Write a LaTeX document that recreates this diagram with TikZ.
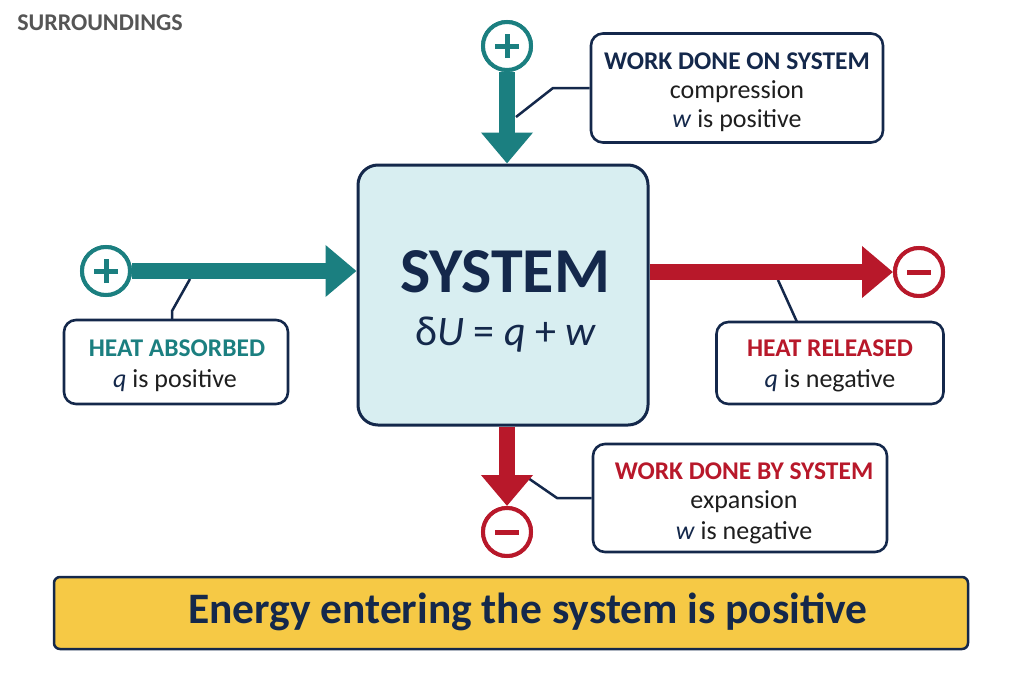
\documentclass[tikz,border=0pt]{standalone}
\usepackage{fontspec}
\setmainfont{Carlito}
\usetikzlibrary{arrows.meta}
\definecolor{navy}{HTML}{14284B}
\definecolor{tealc}{HTML}{1B7F80}
\definecolor{redc}{HTML}{B8182A}
\definecolor{sysfill}{HTML}{D8EEF1}
\definecolor{goldc}{HTML}{F6C945}
\definecolor{txtgray}{HTML}{555555}
\definecolor{bodytxt}{HTML}{1E1E1E}
\tikzset{
  infobox/.style={draw=navy, line width=2.6pt, fill=white, rounded corners=12pt, inner sep=0pt},
  ring/.style={circle, minimum size=48pt, inner sep=0pt, line width=4pt, fill=white},
  titletxt/.style={font=\fontsize{25.5}{28}\selectfont\bfseries, inner sep=0pt},
  bodytext/.style={font=\fontsize{26}{28}\selectfont, text=bodytxt, inner sep=0pt},
  callout/.style={draw=navy, line width=2.5pt, line join=round},
  fatarrow/.style={line width=16pt, -{Triangle[length=31pt,width=50pt]}},
  signbar/.style={line width=5pt},
}
\begin{document}
\begin{tikzpicture}[x=1pt,y=-1pt]
\useasboundingbox (0,0) rectangle (1024,683);
\fill[white] (0,0) rectangle (1024,683);

% label
\node[font=\fontsize{24}{26}\selectfont\bfseries, text=txtgray, inner sep=0pt] (surr) at (100,23) {SURROUNDINGS};

% system
\node[draw=navy, line width=3pt, fill=sysfill, rounded corners=20pt, minimum width=290pt, minimum height=260pt] (sys) at (503,295) {};
\node[font=\fontsize{64}{66}\selectfont\bfseries, text=navy, inner sep=0pt] (systxt) at (505,272) {SYSTEM};
\node[font=\fontsize{42}{44}\selectfont, text=navy, inner sep=0pt] (syseq) at (506,335) {{\upshape δ}\textit{U} = \textit{q} + \textit{w}};

% sign circles
\node[ring, draw=tealc] (pt) at (507,46) {};
\node[ring, draw=tealc] (pl) at (106,271) {};
\node[ring, draw=redc] (mr) at (919,272) {};
\node[ring, draw=redc] (mb) at (507,532) {};

% info boxes
\node[infobox, minimum width=292pt, minimum height=109pt] (won) at (737,88) {};
\node[titletxt, text=navy] (wont) at (737,61) {WORK DONE ON SYSTEM};
\node[bodytext] (won2) at (737,92) {compression};
\node[bodytext] (won3) at (737,121) {\textcolor{navy}{\textit{w}} is positive};

\node[infobox, minimum width=224pt, minimum height=84pt] (hab) at (176,362) {};
\node[titletxt, text=tealc] (habt) at (177,348) {HEAT ABSORBED};
\node[bodytext] (hab2) at (175,381) {\textcolor{navy}{\textit{q}} is positive};

\node[infobox, minimum width=227pt, minimum height=82pt] (hrl) at (830,363) {};
\node[titletxt, text=redc] (hrlt) at (830,348) {HEAT RELEASED};
\node[bodytext] (hrl2) at (830,381) {\textcolor{navy}{\textit{q}} is negative};

\node[infobox, minimum width=294pt, minimum height=108pt] (wby) at (740,498) {};
\node[titletxt, text=redc] (wbyt) at (744,471) {WORK DONE BY SYSTEM};
\node[bodytext] (wby2) at (744,502) {expansion};
\node[bodytext] (wby3) at (744,533) {\textcolor{navy}{\textit{w}} is negative};

% callout lines
\coordinate (c1) at (516,117);
\coordinate (c2) at (190,279);
\coordinate (c3) at (778,280);
\coordinate (c4) at (528,478);
\draw[callout] (won.west) -- (553,88) -- (c1);
\draw[callout] (172,320) -- (172,311) -- (c2);
\draw[callout] (797,322) -- (c3);
\draw[callout] (wby.west) -- (557,498) -- (c4);

% arrows
\draw[fatarrow, tealc] (pt) -- (pt |- sys.north);
\draw[fatarrow, tealc] (pl) -- (pl -| sys.west);
\draw[fatarrow, redc] (sys.east |- mr) -- (mr);
\draw[fatarrow, redc] (sys.south -| mb) -- (mb);

% redraw rings on top
\node[ring, draw=tealc] at (pt) {};
\node[ring, draw=tealc] at (pl) {};
\node[ring, draw=redc] at (mr) {};
\node[ring, draw=redc] at (mb) {};
\draw[signbar, tealc] ([xshift=-12pt]pt.center) -- ([xshift=12pt]pt.center);
\draw[signbar, tealc] ([yshift=-12pt]pt.center) -- ([yshift=12pt]pt.center);
\draw[signbar, tealc] ([xshift=-12pt]pl.center) -- ([xshift=12pt]pl.center);
\draw[signbar, tealc] ([yshift=-12pt]pl.center) -- ([yshift=12pt]pl.center);
\draw[signbar, redc] ([xshift=-12pt]mr.center) -- ([xshift=12pt]mr.center);
\draw[signbar, redc] ([xshift=-12pt]mb.center) -- ([xshift=12pt]mb.center);

% banner
\node[draw=navy, line width=2.5pt, fill=goldc, rounded corners=6pt, minimum width=914pt, minimum height=72pt] (banner) at (511,613) {};
\node[font=\fontsize{43.5}{46}\selectfont\bfseries, text=navy, inner sep=0pt] (bannert) at (528,612) {Energy entering the system is positive};
\end{tikzpicture}
\end{document}
